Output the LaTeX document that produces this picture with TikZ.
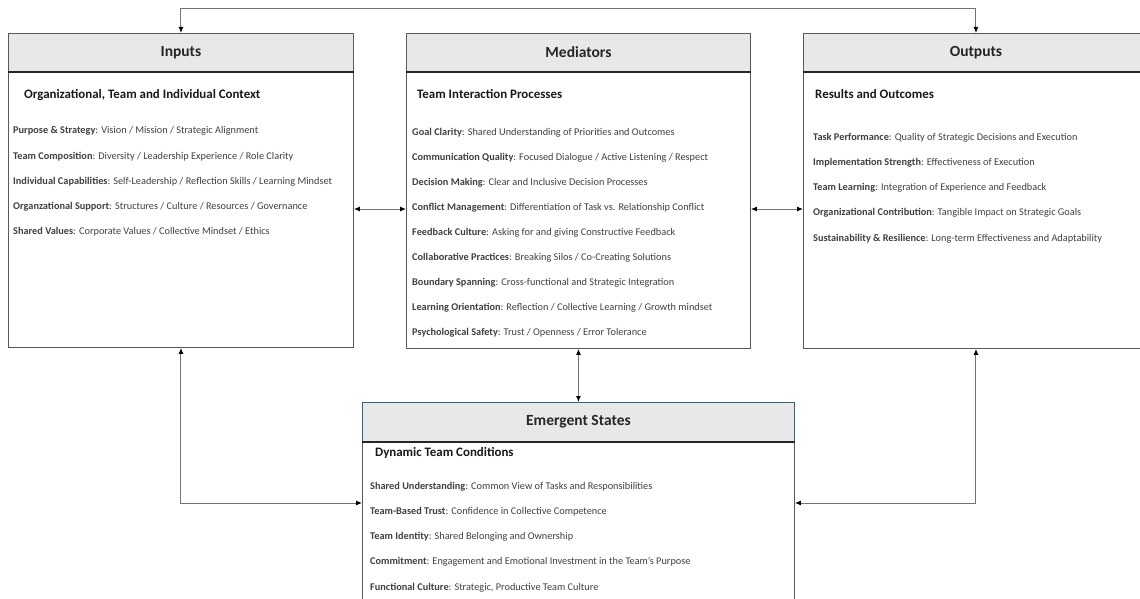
\documentclass[tikz,border=0pt]{standalone}
\usepackage{fontspec}
\setmainfont{Carlito}
\usetikzlibrary{arrows.meta}
\begin{document}
\begin{tikzpicture}[x=1pt,y=-1pt,
  box/.style={draw=black!65, line width=0.9pt, fill=white, inner sep=0pt, anchor=north west},
  headbox/.style={draw=black!65, line width=0.9pt, fill=black!9, inner sep=0pt, anchor=north west,
    minimum height=38pt, font=\bfseries\fontsize{15.5}{17}\selectfont, text=black!85},
  subtitle/.style={anchor=base west, inner sep=0pt, font=\bfseries\fontsize{12.9}{14}\selectfont, text=black!90},
  item/.style={anchor=base west, inner sep=0pt, font=\fontsize{10.3}{12}\selectfont, text=black!75},
  arr/.style={{Latex[length=6pt,width=5pt,color=black]}-{Latex[length=6pt,width=5pt,color=black]}, line width=1pt, draw=black!55},
  sep/.style={line width=1.3pt, draw=black!85}
]
\useasboundingbox (0,0) rectangle (1140,599);

% boxes
\node[box, minimum width=345pt, minimum height=314pt] (in) at (8,33) {};
\node[headbox, minimum width=345pt] (hin) at (8,33) {Inputs};
\draw[sep] (hin.south west) -- (hin.south east);

\node[box, minimum width=344pt, minimum height=315pt] (med) at (406,33) {};
\node[headbox, minimum width=344pt] (hmed) at (406,33) {Mediators};
\draw[sep] (hmed.south west) -- (hmed.south east);

\node[box, minimum width=345pt, minimum height=315pt] (out) at (803,33) {};
\node[headbox, minimum width=345pt] (hout) at (803,33) {Outputs};
\draw[sep] (hout.south west) -- (hout.south east);

\node[box, minimum width=432pt, minimum height=210pt] (em) at (362,402) {};
\node[headbox, minimum width=432pt, minimum height=39pt, draw={rgb,255:red,70;green,95;blue,110}] (hem) at (362,402) {Emergent States};
\draw[sep] (hem.south west) -- (hem.south east);

% subtitles
\node[subtitle] (sin) at (24,99) {Organizational, Team and Individual Context};
\node[subtitle] (smed) at (417,99) {Team Interaction Processes};
\node[subtitle] (sout) at (815,99) {Results and Outcomes};
\node[subtitle] (sem) at (375,456) {Dynamic Team Conditions};

% items
\foreach \t [count=\i] in {
  {\textbf{Purpose \& Strategy}: Vision / Mission / Strategic Alignment},
  {\textbf{Team Composition}: Diversity / Leadership Experience / Role Clarity},
  {\textbf{Individual Capabilities}: Self-Leadership / Reflection Skills / Learning Mindset},
  {\textbf{Organzational Support}: Structures / Culture / Resources / Governance},
  {\textbf{Shared Values}: Corporate Values / Collective Mindset / Ethics}}
  \node[item] (in\i) at (13, 109+25*\i) {\t};

\foreach \t [count=\i] in {
  {\textbf{Goal Clarity}: Shared Understanding of Priorities and Outcomes},
  {\textbf{Communication Quality}: Focused Dialogue / Active Listening / Respect},
  {\textbf{Decision Making}: Clear and Inclusive Decision Processes},
  {\textbf{Conflict Management}: Differentiation of Task vs. Relationship Conflict},
  {\textbf{Feedback Culture}: Asking for and giving Constructive Feedback},
  {\textbf{Collaborative Practices}: Breaking Silos / Co-Creating Solutions},
  {\textbf{Boundary Spanning}: Cross-functional and Strategic Integration},
  {\textbf{Learning Orientation}: Reflection / Collective Learning / Growth mindset},
  {\textbf{Psychological Safety}: Trust / Openness / Error Tolerance}}
  \node[item] (med\i) at (412, 110+25.1*\i) {\t};

\foreach \t [count=\i] in {
  {\textbf{Task Performance}: Quality of Strategic Decisions and Execution},
  {\textbf{Implementation Strength}: Effectiveness of Execution},
  {\textbf{Team Learning}: Integration of Experience and Feedback},
  {\textbf{Organizational Contribution}: Tangible Impact on Strategic Goals},
  {\textbf{Sustainability \& Resilience}: Long-term Effectiveness and Adaptability}}
  \node[item] (out\i) at (813, 115+25.2*\i) {\t};

\foreach \t [count=\i] in {
  {\textbf{Shared Understanding}: Common View of Tasks and Responsibilities},
  {\textbf{Team-Based Trust}: Confidence in Collective Competence},
  {\textbf{Team Identity}: Shared Belonging and Ownership},
  {\textbf{Commitment}: Engagement and Emotional Investment in the Team’s Purpose},
  {\textbf{Functional Culture}: Strategic, Productive Team Culture}}
  \node[item] (em\i) at (370, 464+25.2*\i) {\t};

% connectors
\coordinate (topL) at (180.5,9);
\draw[arr] (in.north) -- (in.north |- topL) -- (out.north |- topL) -- (out.north);
\draw[arr] (in.east |- 0,209) -- (med.west |- 0,209);
\draw[arr] (med.east |- 0,209) -- (out.west |- 0,209);
\draw[arr] (med.south) -- (hem.north);
\draw[arr] (in.south) -- (in.south |- 0,503) -- (em.west |- 0,503);
\draw[arr] (out.south) -- (out.south |- 0,503) -- (em.east |- 0,503);
\end{tikzpicture}
\end{document}
